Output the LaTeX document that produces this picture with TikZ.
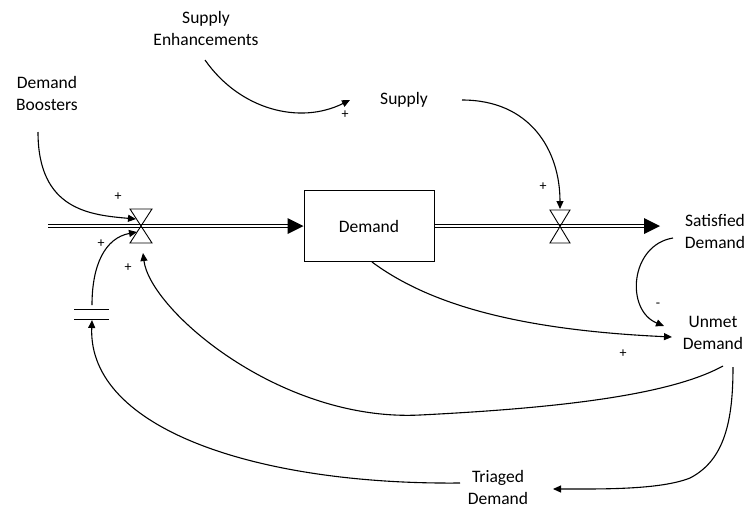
\documentclass[tikz,border=0pt]{standalone}
\usepackage{fontspec}
\setmainfont{Carlito}
\usetikzlibrary{arrows.meta}
\begin{document}
\begin{tikzpicture}[x=1pt,y=-1pt,
  lbl/.style={font=\fontsize{17.5}{22}\selectfont, align=center, inner sep=0pt},
  info/.style={line width=1.1pt, -{Triangle[length=8pt,width=7pt]}},
  pipe/.style={double, line width=1.1pt, double distance=2.4pt},
  valvebox/.style={line width=0.9pt},
  sgn/.style={font=\fontsize{14}{14}\selectfont, inner sep=0pt}]
\useasboundingbox (0,0) rectangle (748,507);

% text nodes
\node[lbl] (boost) at (47,93) {Demand\\Boosters};
\node[lbl] (enh) at (206,28) {Supply\\Enhancements};
\node[lbl] (supply) at (404,100) {Supply};
\node[lbl] (satd) at (715,231) {Satisfied\\Demand};
\node[lbl] (unmet) at (713,333) {Unmet\\Demand};
\node[lbl] (tri) at (498,487) {Triaged\\Demand};
\node[lbl, draw, line width=1pt, minimum width=130pt, minimum height=71pt] (dem) at (369,226) {Demand};

% flow points
\coordinate (src) at (48,226);
\coordinate (v1) at (141,226);
\coordinate (v2) at (560,226);
\coordinate (sink) at (660,226);
\coordinate (cl) at (92,314);

% pipes
\draw[pipe] (src) -- (v1) -- ([xshift=-10pt]dem.west);
\fill (dem.west) -- ++(-16,-8) -- ++(0,16) -- cycle;
\draw[pipe] (dem.east) -- (v2) -- ([xshift=-10pt]sink);
\fill (sink) -- ++(-16,-8) -- ++(0,16) -- cycle;

% valves
\draw[valvebox] (v1) ++(-11,-17) -- ++(22,0) -- ++(-22,34) -- ++(22,0) -- cycle;
\draw[valvebox] (v2) ++(-10,-16) -- ++(20,0) -- ++(-20,33) -- ++(20,0) -- cycle;

% cloud / source symbol
\draw[line width=1pt] (cl) ++(-18,-5) -- ++(35,0);
\draw[line width=1pt] (cl) ++(-18,5) -- ++(35,0);

% connector end points
\coordinate (boostout) at (38,132);
\coordinate (v1a) at (136,219);
\coordinate (v1b) at (137,232);
\coordinate (v1c) at (143,253);
\coordinate (enhout) at (205,60);
\coordinate (supin) at (350,100);
\coordinate (supout) at (462,100);
\coordinate (v2in) at (560,209);
\coordinate (demout) at (372,262);
\coordinate (unmin1) at (672,337);
\coordinate (unmin2) at (664,326);
\coordinate (satout) at (673,238);
\coordinate (unmout1) at (723,366);
\coordinate (unmout2) at (733,367);
\coordinate (triin) at (553,489);
\coordinate (triout) at (460,483);
\coordinate (clin) at (92,320);
\coordinate (clout) at (92,305);

% information links
\draw[info] (boostout) .. controls (38,210) and (90,215) .. (v1a);
\draw[info] (enhout) .. controls (240,110) and (300,125) .. (supin);
\draw[info] (supout) .. controls (530,100) and (560,150) .. (v2in);
\draw[info] (demout) .. controls (430,305) and (520,330) .. (unmin1);
\draw[info] (satout) .. controls (630,245) and (625,310) .. (unmin2);
\draw[info] (unmout1) .. controls (670,395) and (560,408) .. (420,415)
   .. controls (280,422) and (150,310) .. (v1c);
\draw[info] (unmout2) .. controls (733,420) and (725,460) .. (690,478)
   .. controls (660,490) and (600,489) .. (triin);
\draw[info] (triout) .. controls (260,485) and (88,430) .. (clin);
\draw[info] (clout) .. controls (92,265) and (105,238) .. (v1b);

% polarity signs
\node[sgn] (s1) at (118,197) {+};
\node[sgn] (s2) at (101,244) {+};
\node[sgn] (s3) at (128,268) {+};
\node[sgn] (s4) at (345,115) {+};
\node[sgn] (s5) at (543,187) {+};
\node[sgn] (s6) at (623,354) {+};
\node[sgn] (s7) at (658,305) {-};
\end{tikzpicture}
\end{document}
